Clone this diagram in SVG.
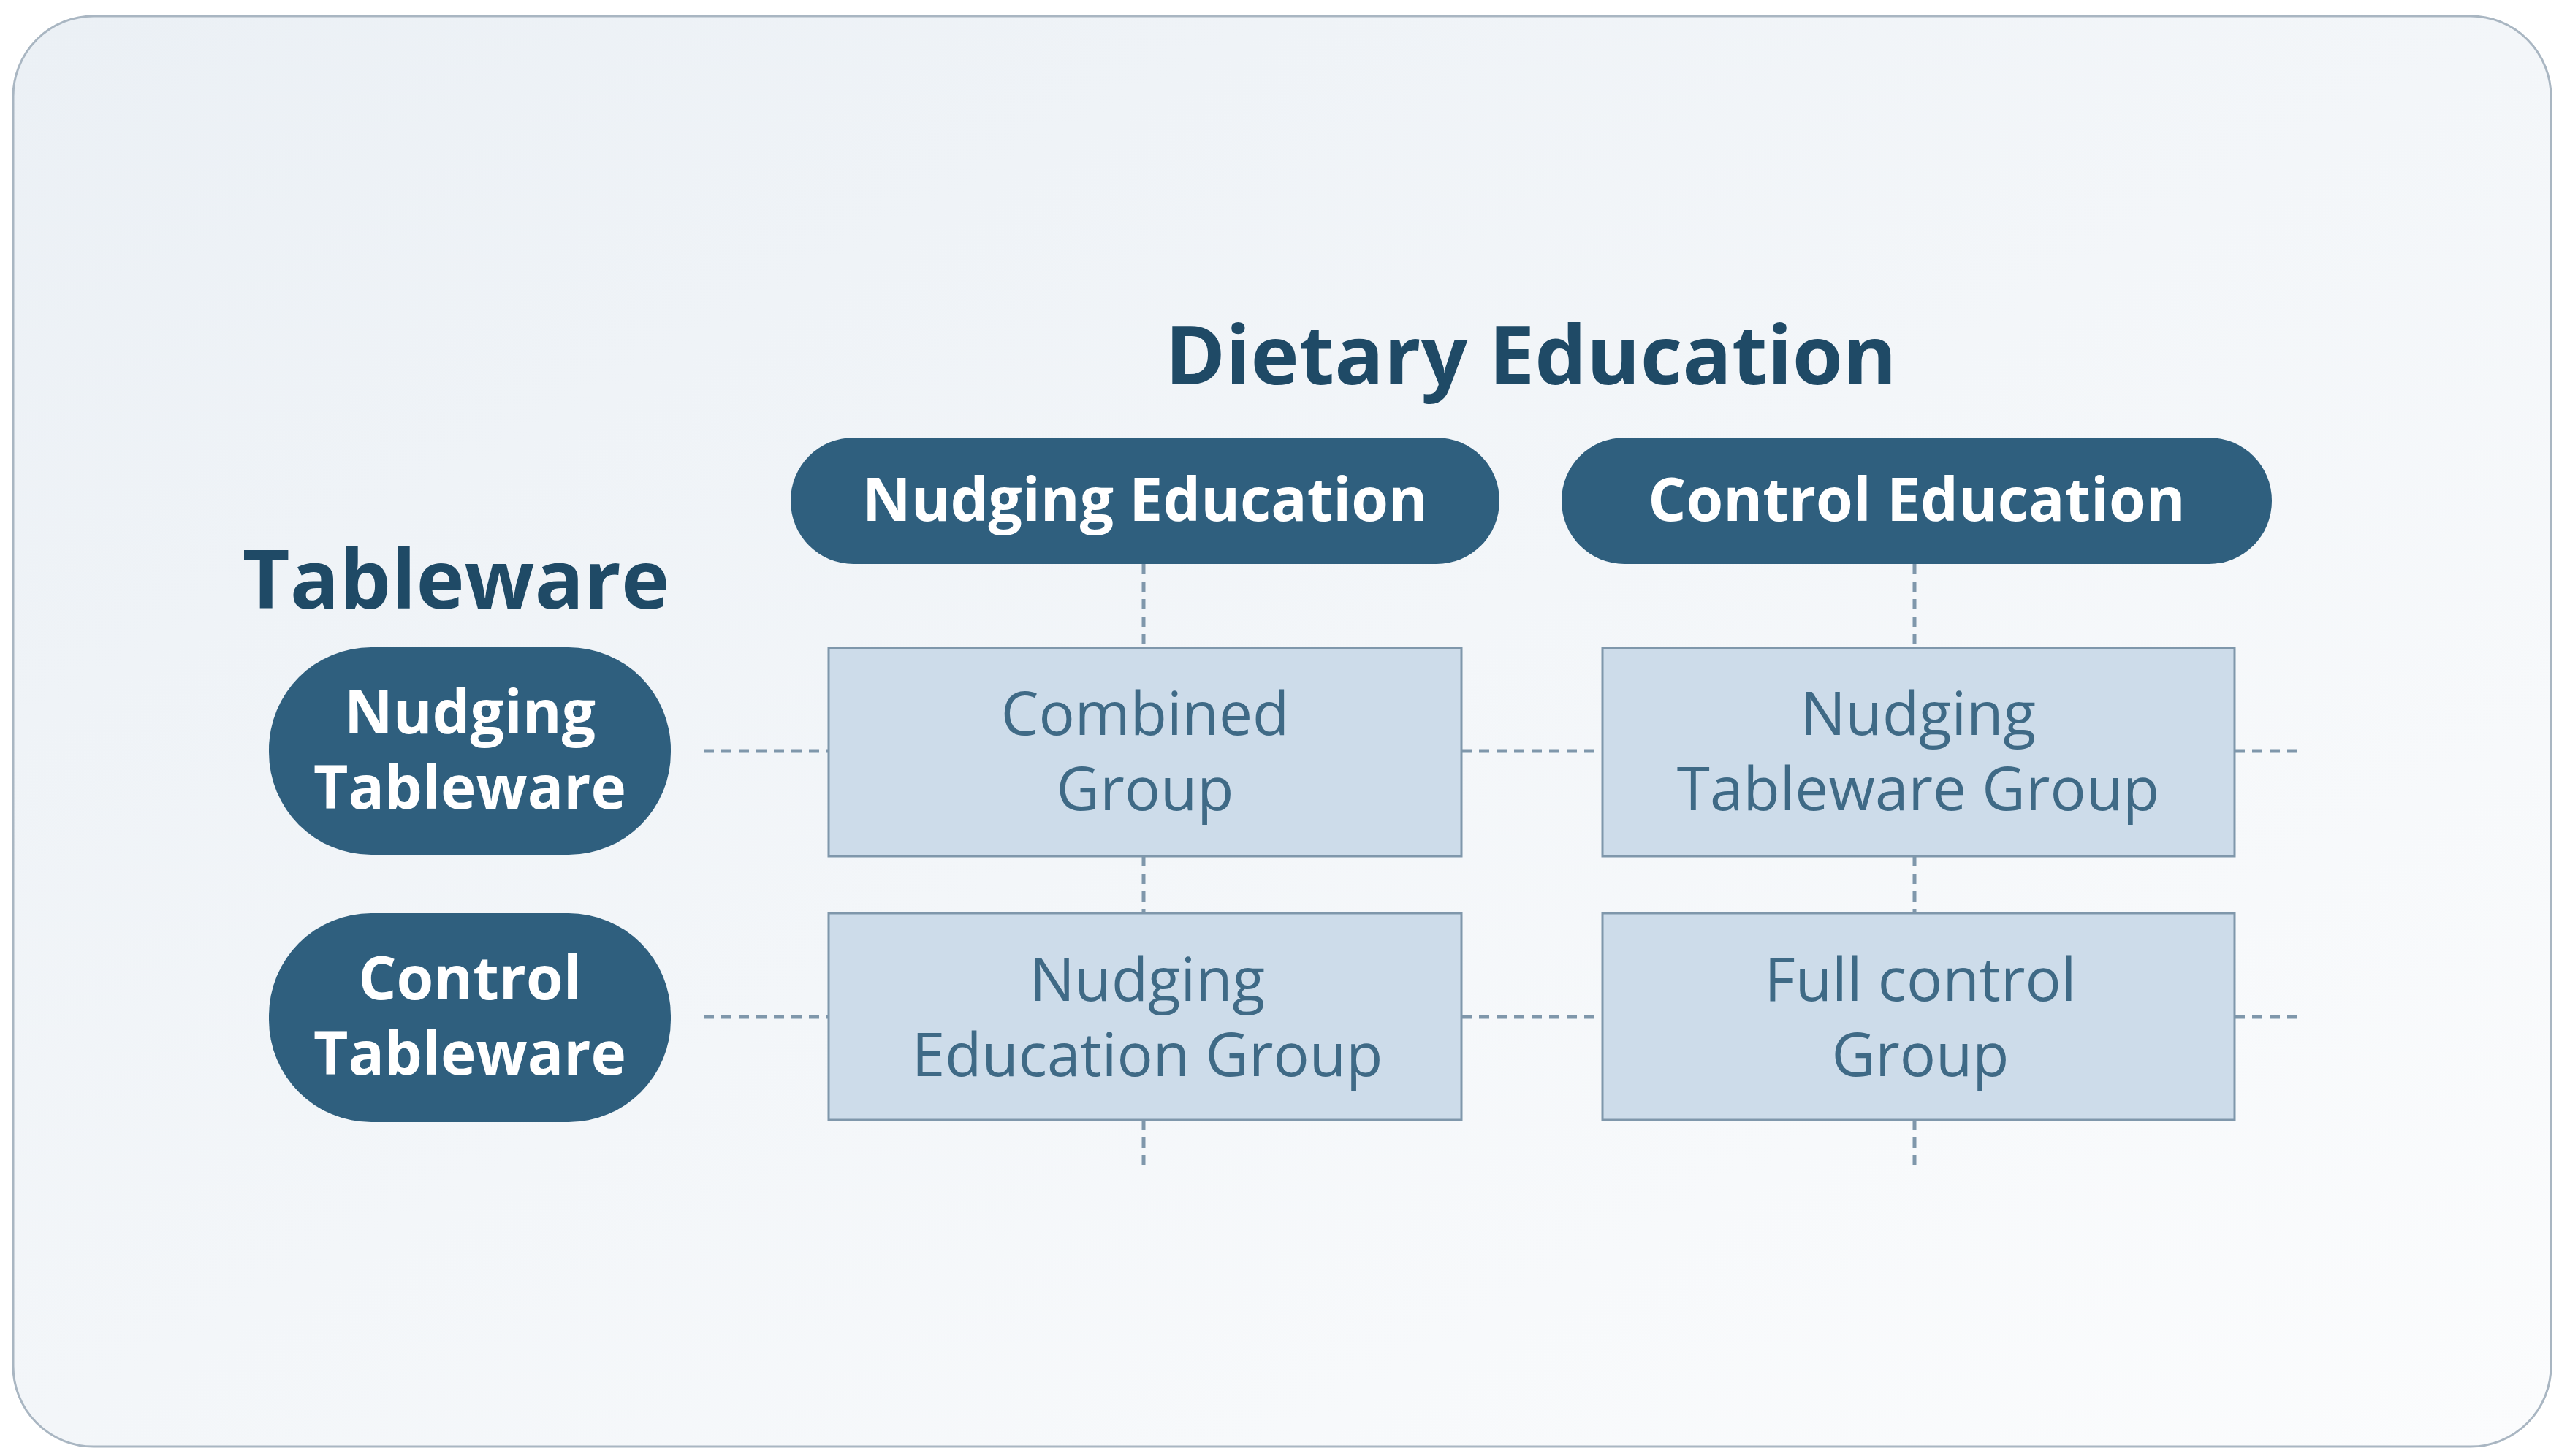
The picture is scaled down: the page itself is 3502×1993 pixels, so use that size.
<svg xmlns="http://www.w3.org/2000/svg" width="3502" height="1993" viewBox="0 0 3502 1993">
<defs>
<linearGradient id="bg" x1="0" y1="0" x2="1" y2="1">
<stop offset="0" stop-color="#ebf0f5"/><stop offset="1" stop-color="#fbfcfd"/>
</linearGradient>
</defs>
<style>
.pill{fill:#2f5f7e}
.box{fill:#cddcea;stroke:#7f97ab;stroke-width:3}
.wt{font-family:"Open Sans","Noto Sans",sans-serif;font-weight:700;fill:#ffffff;font-size:82px;text-anchor:middle}
.bt{font-family:"Open Sans","Noto Sans",sans-serif;fill:#3f6a86;font-size:82px;text-anchor:middle}
.hd{font-family:"Open Sans","Noto Sans",sans-serif;font-weight:700;fill:#1f4a66;font-size:112px;text-anchor:middle}
.dash{stroke:#7f97ab;stroke-width:5;stroke-dasharray:14 10;fill:none}
</style>
<rect x="0" y="0" width="3502" height="1993" fill="#ffffff"/>
<rect x="18" y="22" width="3473" height="1958" rx="110" fill="url(#bg)" stroke="#a9b6c2" stroke-width="3"/>
<g id="connectors">
<path class="dash" d="M963 1028H1134M2000 1028H2193M3058 1028H3143M963 1392H1134M2000 1392H2193M3058 1392H3143"/>
<path class="dash" d="M1565 772V887M1565 1172V1250M1565 1533V1605M2620 772V887M2620 1172V1250M2620 1533V1605"/>
</g>
<g id="title-dietary"><text class="hd" x="2095" y="526">Dietary Education</text></g>
<g id="title-tableware"><text class="hd" x="624" y="833">Tableware</text></g>
<g id="nudging-education"><rect class="pill" x="1082" y="599" width="970" height="173" rx="86"/><text class="wt" x="1567" y="713">Nudging Education</text></g>
<g id="control-education"><rect class="pill" x="2137" y="599" width="972" height="173" rx="86"/><text class="wt" x="2623" y="713">Control Education</text></g>
<g id="nudging-tableware"><rect class="pill" x="368" y="886" width="550" height="284" rx="140"/><text class="wt" x="643" y="1004">Nudging</text><text class="wt" x="643" y="1107">Tableware</text></g>
<g id="control-tableware"><rect class="pill" x="368" y="1250" width="550" height="286" rx="140"/><text class="wt" x="643" y="1368">Control</text><text class="wt" x="643" y="1471">Tableware</text></g>
<g id="combined"><rect class="box" x="1134" y="887" width="866" height="285"/><text class="bt" x="1567" y="1006">Combined</text><text class="bt" x="1567" y="1109">Group</text></g>
<g id="nudging-tableware-group"><rect class="box" x="2193" y="887" width="865" height="285"/><text class="bt" x="2625" y="1006">Nudging</text><text class="bt" x="2625" y="1109">Tableware Group</text></g>
<g id="nudging-education-group"><rect class="box" x="1134" y="1250" width="866" height="283"/><text class="bt" x="1570" y="1370">Nudging</text><text class="bt" x="1570" y="1473">Education Group</text></g>
<g id="full-control"><rect class="box" x="2193" y="1250" width="865" height="283"/><text class="bt" x="2628" y="1370">Full control</text><text class="bt" x="2628" y="1473">Group</text></g>
</svg>
